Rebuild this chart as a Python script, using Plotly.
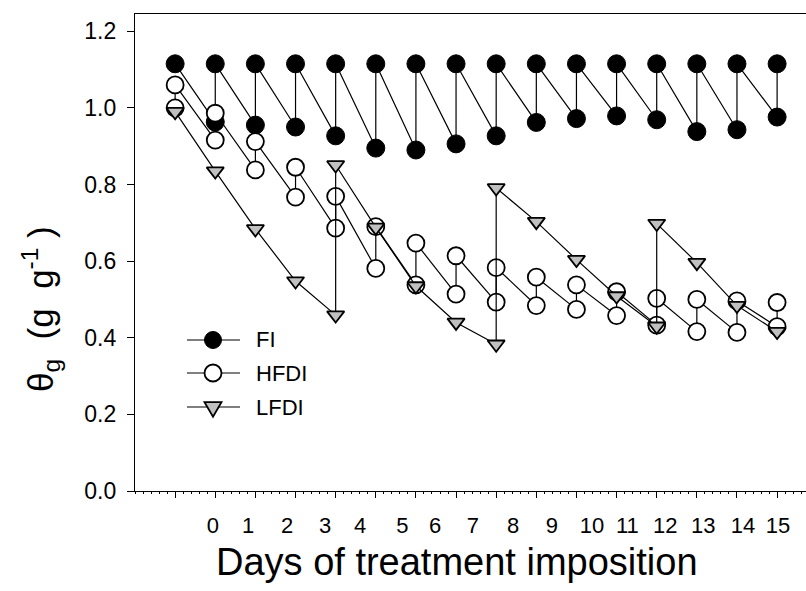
import plotly.graph_objects as go

# ---------------- data ----------------
day_index = list(range(16))            # position of each measurement day on the axis
tick_labels = [str(d) for d in range(16)]
# positions where the reference prints its day labels (slightly drifted from ticks)
label_pos = [0.94, 1.82, 2.79, 3.74, 4.61, 5.66, 6.48, 7.42,
             8.42, 9.39, 10.39, 11.27, 12.21, 13.16, 14.15, 15.02]

# value before irrigation (low point) and after irrigation (high point); None = no point
fi_before = [None, 0.963, 0.955, 0.950, 0.927, 0.895, 0.890, 0.906,
             0.927, 0.962, 0.972, 0.979, 0.969, 0.938, 0.943, 0.976]
fi_after = [1.115] * 16

hfdi_before = [1.000, 0.916, 0.838, 0.767, 0.686, 0.581, 0.538, 0.514,
               0.493, 0.484, 0.474, 0.458, 0.433, 0.416, 0.414, 0.429]
hfdi_after = [1.060, 0.986, 0.912, 0.845, 0.769, 0.690, 0.647, 0.614,
              0.583, 0.558, 0.538, 0.520, 0.503, 0.500, 0.496, 0.492]

lfdi_before = [0.990, 0.835, 0.684, 0.548, 0.459, 0.688, 0.535, 0.440,
               0.383, 0.703, 0.604, 0.509, 0.430, 0.596, 0.484, 0.416]
lfdi_after = [None, None, None, None, 0.851, None, None, None,
              0.791, None, None, None, 0.698, None, None, None]

y_ticks = [0.0, 0.2, 0.4, 0.6, 0.8, 1.0, 1.2]
series_names = ["FI", "HFDI", "LFDI"]


def sawtooth(before, after):
    xs, ys = [], []
    for k, b, a in zip(day_index, before, after):
        if b is not None:
            xs.append(k); ys.append(b)
        if a is not None:
            xs.append(k); ys.append(a)
    return xs, ys


FONT = "Liberation Sans, Arial, sans-serif"
fig = go.Figure()

styles = [
    dict(symbol="circle", size=18, color="black", lw=1),
    dict(symbol="circle", size=17, color="white", lw=1.8),
    dict(symbol="triangle-down", size=15, color="#c0c0c0", lw=1.8),
]
for name, (b, a), st in zip(series_names,
                            [(fi_before, fi_after), (hfdi_before, hfdi_after),
                             (lfdi_before, lfdi_after)], styles):
    xs, ys = sawtooth(b, a)
    fig.add_trace(go.Scatter(
        x=xs, y=ys, mode="lines+markers", name=name, showlegend=False,
        line=dict(color="black", width=1.2),
        marker=dict(symbol=st["symbol"], size=st["size"], color=st["color"],
                    line=dict(color="black", width=st["lw"])),
        cliponaxis=False,
    ))

# invisible trace to carry the drifted tick labels on xaxis2
fig.add_trace(go.Scatter(x=[label_pos[0]], y=[0], xaxis="x2", mode="markers",
                         marker=dict(opacity=0), showlegend=False, hoverinfo="skip"))

X_RANGE = [-1.0, 15.72]
fig.update_layout(
    width=806, height=591,
    margin=dict(l=135, r=0, t=14, b=100),
    paper_bgcolor="white", plot_bgcolor="white",
    font=dict(family=FONT, color="black", size=22),
    xaxis=dict(range=X_RANGE, tickvals=day_index, showticklabels=False,
               ticks="outside", ticklen=6, tickwidth=1.2, tickcolor="black",
               showline=True, linecolor="black", linewidth=1.2, mirror=True,
               showgrid=False, zeroline=False,
               minor=dict(ticks="outside", ticklen=2, dtick=0.2, tickcolor="black", tickwidth=0.6)),
    xaxis2=dict(range=X_RANGE, overlaying="x", side="bottom", anchor="y",
                tickvals=label_pos, ticktext=tick_labels, ticks="",
                showline=False, showgrid=False, zeroline=False,
                tickfont=dict(size=22), ticklabelstandoff=19),
    yaxis=dict(range=[0, 1.245], tickvals=y_ticks, tickformat=".1f",
               ticks="outside", ticklen=7, tickwidth=1.2, tickcolor="black",
               showline=True, linecolor="black", linewidth=1.2,
               showgrid=False, zeroline=False, tickfont=dict(size=23),
               ticklabelstandoff=6),
)

W = 806 - 135
H = 591 - 100 - 14


def px_x(p):
    return (p - 135) / W


def px_y(p):
    return (491 - p) / H


# axis titles
fig.add_annotation(text="Days of treatment imposition", xref="paper", yref="paper",
                   x=px_x(457), y=px_y(562), showarrow=False,
                   xanchor="center", yanchor="middle", font=dict(size=38))
fig.add_annotation(text="θ<sub>g</sub>&nbsp;&nbsp;(g&nbsp;&nbsp;g<sup>-1</sup>&nbsp;)", xref="paper", yref="paper",
                   x=px_x(40), y=px_y(309), showarrow=False, textangle=-90,
                   xanchor="center", yanchor="middle", font=dict(size=35))

# manual legend
rows = [340, 373, 407]
for name, row, st in zip(series_names, rows, styles):
    yy = px_y(row)
    fig.add_shape(type="line", xref="paper", yref="paper",
                  x0=px_x(187), x1=px_x(240), y0=yy, y1=yy,
                  line=dict(color="black", width=1.2))
    if st["symbol"] == "circle":
        fig.add_shape(type="circle", xref="paper", yref="paper",
                      xsizemode="pixel", ysizemode="pixel",
                      xanchor=px_x(213), yanchor=yy,
                      x0=-8.5, x1=8.5, y0=-8.5, y1=8.5,
                      fillcolor=st["color"], line=dict(color="black", width=st["lw"]))
    else:
        fig.add_shape(type="path", xref="paper", yref="paper",
                      xsizemode="pixel", ysizemode="pixel",
                      xanchor=px_x(213), yanchor=yy,
                      path="M-8.5,4.9 L8.5,4.9 L0,-9.8 Z",
                      fillcolor=st["color"], line=dict(color="black", width=st["lw"]))
    fig.add_annotation(text=name, xref="paper", yref="paper", x=px_x(254), y=yy,
                       xanchor="left", yanchor="middle", showarrow=False,
                       font=dict(size=22))

fig.write_html("out.html", config={"displayModeBar": False},
               post_script="document.body.style.margin='0';document.body.style.overflow='hidden';")
